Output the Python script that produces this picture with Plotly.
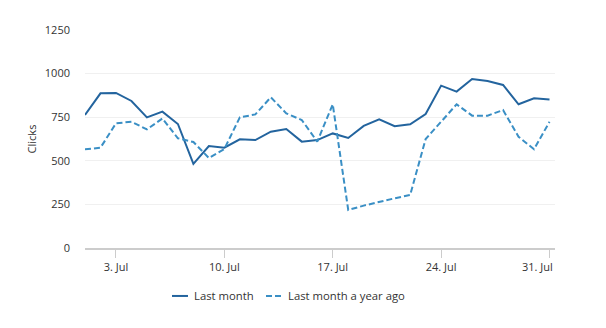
import plotly.graph_objects as go
import pandas as pd

# Daily clicks for July, current period vs. same month one year earlier
dates = pd.date_range("2023-07-01", "2023-07-31", freq="D")

last_month = [763, 887, 889, 843, 749, 782, 711, 482, 585, 575,
              623, 619, 667, 682, 610, 619, 657, 631, 700, 738,
              698, 709, 768, 931, 897, 969, 958, 935, 824, 858, 851]

year_ago = [566, 575, 715, 724, 680, 743, 629, 608, 516, 568,
            749, 766, 864, 772, 734, 610, 824, 218, 243, 265,
            285, 304, 625, 724, 824, 759, 759, 791, 638, 566, 724]

y_ticks = [0, 250, 500, 750, 1000, 1250]
x_ticks = pd.date_range("2023-07-03", "2023-07-31", freq="7D")
x_tick_labels = [d.strftime("%-d. %b") for d in x_ticks]

series_names = ["Last month", "Last month a year ago"]
series_colors = ["#23649e", "#3a8fc5"]
series_dashes = ["solid", "6px,3px"]

FONT = "Open Sans, Arial, sans-serif"
x_end = pd.Timestamp("2023-07-31 08:30")

fig = go.Figure()
for name, values, color, dash in zip(series_names, [last_month, year_ago],
                                     series_colors, series_dashes):
    fig.add_trace(go.Scatter(
        x=dates, y=values, name=name, mode="lines",
        line=dict(color=color, width=2, dash=dash),
    ))

# Compact legend drawn below the plot: short line sample + label
legend_y = -0.22
legend_items = [(0.1851, 0.2191, 0.2277), (0.3851, 0.4170, 0.4277)]
for (x0, x1, xt), name, color, dash in zip(legend_items, series_names,
                                          series_colors, series_dashes):
    fig.add_shape(type="line", xref="paper", yref="paper",
                  x0=x0, x1=x1, y0=legend_y, y1=legend_y,
                  line=dict(color=color, width=2, dash=dash))
    fig.add_annotation(xref="paper", yref="paper", x=xt, y=legend_y,
                       xanchor="left", yanchor="middle", text=name,
                       showarrow=False,
                       font=dict(family=FONT, size=11.3, color="#333333"))

# The last tick label is kept inside the plot's right edge
tick_text = x_tick_labels[:-1] + [""]
fig.add_annotation(xref="x", yref="paper", x=x_end, y=0,
                   xanchor="right", yanchor="top", yshift=-9,
                   text=x_tick_labels[-1], showarrow=False,
                   font=dict(family=FONT, size=11, color="#333333"))

fig.update_layout(
    width=606, height=328,
    margin=dict(l=85, r=51, t=30, b=80),
    paper_bgcolor="white", plot_bgcolor="white",
    font=dict(family=FONT, size=11, color="#333333"),
    showlegend=False,
    hovermode=False,
)

fig.update_xaxes(
    range=[pd.Timestamp("2023-07-01"), x_end],
    tickvals=x_ticks, ticktext=tick_text,
    showgrid=False, zeroline=False,
    showline=True, linecolor="#cccccc", linewidth=2,
    ticks="outside", ticklen=8, tickwidth=1, tickcolor="#cccccc",
    tickfont=dict(size=11, color="#333333"),
)

fig.update_yaxes(
    range=[0, 1250], tickvals=y_ticks,
    showgrid=True, gridcolor="#f0f0f0", gridwidth=1,
    zeroline=False, showline=False,
    ticklabelstandoff=14,
    tickfont=dict(size=11, color="#333333"),
    title=dict(text="Clicks", font=dict(size=11, color="#333333"), standoff=5),
)

fig.write_html("out.html")
